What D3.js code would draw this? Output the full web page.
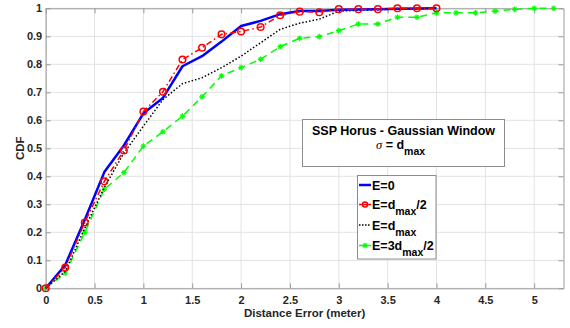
<!DOCTYPE html>
<html>
<head>
<meta charset="utf-8">
<script src="https://cdn.jsdelivr.net/npm/d3@7"></script>
<style>
  html, body { margin: 0; padding: 0; background: #fff; }
  svg { display: block; font-family: "Liberation Sans", Arial, Helvetica, sans-serif; }
  .tick text { font-weight: bold; font-size: 11px; fill: #262626; }
</style>
</head>
<body>
<svg id="chart" width="570" height="328"></svg>
<script>
// Distance error samples (meters) where each CDF was evaluated
const xSteps = [0, 0.2, 0.4, 0.6, 0.8, 1.0, 1.2, 1.4, 1.6, 1.8, 2.0, 2.2, 2.4, 2.6, 2.8, 3.0, 3.2, 3.4, 3.6, 3.8, 4.0];
const xStepsLong = [0, 0.2, 0.4, 0.6, 0.8, 1.0, 1.2, 1.4, 1.6, 1.8, 2.0, 2.2, 2.4, 2.6, 2.8, 3.0, 3.2, 3.4, 3.6, 3.8, 4.0, 4.2, 4.4, 4.6, 4.8, 5.0, 5.2];

// CDF values for each error level E
const cdfE0 = [0, 0.083, 0.245, 0.415, 0.51, 0.625, 0.68, 0.793, 0.829, 0.881, 0.937, 0.955, 0.979, 0.99, 0.99, 0.995, 0.996, 0.997, 0.998, 0.999, 1.0];
const cdfHalf = [0, 0.074, 0.235, 0.382, 0.492, 0.631, 0.702, 0.817, 0.859, 0.907, 0.917, 0.933, 0.975, 0.988, 0.986, 0.997, 0.997, 0.997, 1.0, 1.0, 1.0];
const cdfFull = [0, 0.06, 0.215, 0.36, 0.483, 0.579, 0.674, 0.731, 0.752, 0.788, 0.829, 0.877, 0.925, 0.947, 0.961, 0.99, 0.993, 0.995, 0.997, 0.998, 1.0];
const cdfThreeHalf = [0, 0.054, 0.2, 0.354, 0.413, 0.508, 0.559, 0.615, 0.684, 0.759, 0.788, 0.818, 0.863, 0.893, 0.899, 0.92, 0.944, 0.944, 0.968, 0.968, 0.984, 0.984, 0.984, 0.99, 0.996, 1.0, 1.0];

// Tick labels
const xTicks = [0, 0.5, 1, 1.5, 2, 2.5, 3, 3.5, 4, 4.5, 5];
const yTicks = [0, 0.1, 0.2, 0.3, 0.4, 0.5, 0.6, 0.7, 0.8, 0.9, 1];

const svg = d3.select("#chart");
const plot = { left: 45.7, right: 563.5, top: 8.3, bottom: 288.3 };

const x = d3.scaleLinear().domain([0, 5.3]).range([plot.left, plot.right]);
const y = d3.scaleLinear().domain([0, 1]).range([plot.bottom, plot.top]);

// Grid
const grid = svg.append("g").attr("stroke", "#e3e3e3").attr("stroke-width", 1);
grid.selectAll(".gx").data(xTicks).join("line")
  .attr("x1", d => x(d)).attr("x2", d => x(d))
  .attr("y1", plot.top).attr("y2", plot.bottom);
grid.selectAll(".gy").data(yTicks).join("line")
  .attr("x1", plot.left).attr("x2", plot.right)
  .attr("y1", d => y(d)).attr("y2", d => y(d));

// Axes with inward ticks on all four sides
const fmt = d => String(d);
const axB = svg.append("g").attr("transform", `translate(0,${plot.bottom})`)
  .call(d3.axisBottom(x).tickValues(xTicks).tickFormat(fmt).tickSizeInner(-5).tickSizeOuter(0).tickPadding(6));
const axL = svg.append("g").attr("transform", `translate(${plot.left},0)`)
  .call(d3.axisLeft(y).tickValues(yTicks).tickFormat(fmt).tickSizeInner(-5).tickSizeOuter(0).tickPadding(3.5));
const axT = svg.append("g").attr("transform", `translate(0,${plot.top})`)
  .call(d3.axisTop(x).tickValues(xTicks).tickFormat("").tickSizeInner(-5).tickSizeOuter(0));
const axR = svg.append("g").attr("transform", `translate(${plot.right},0)`)
  .call(d3.axisRight(y).tickValues(yTicks).tickFormat("").tickSizeInner(-5).tickSizeOuter(0));
[axB, axL, axT, axR].forEach(a => {
  a.select(".domain").attr("stroke", "#9a9a9a").attr("stroke-width", 1);
  a.selectAll(".tick line").attr("stroke", "#9a9a9a");
});
axB.selectAll(".tick text").attr("dy", "0.9em");

// Axis titles
svg.append("text")
  .attr("x", (plot.left + plot.right) / 2).attr("y", 316.5)
  .attr("text-anchor", "middle").attr("font-size", 11.5).attr("font-weight", "bold").attr("fill", "#262626")
  .text("Distance Error (meter)");
svg.append("text")
  .attr("transform", `translate(24,${(plot.top + plot.bottom) / 2}) rotate(-90)`)
  .attr("text-anchor", "middle").attr("font-size", 11.5).attr("font-weight", "bold").attr("fill", "#262626")
  .text("CDF");

// Series
const series = [
  { name: "E0", xs: xSteps, ys: cdfE0, color: "#0000ff", width: 2.5, dash: null, marker: null },
  { name: "half", xs: xSteps, ys: cdfHalf, color: "#ff0000", width: 1.5, dash: "6,3,1.5,3", marker: "circle" },
  { name: "full", xs: xSteps, ys: cdfFull, color: "#000000", width: 1.5, dash: "1.5,2", marker: null },
  { name: "threeHalf", xs: xStepsLong, ys: cdfThreeHalf, color: "#00ff00", width: 1.5, dash: "7,5", marker: "star" }
];

const line = d3.line().x(d => x(d[0])).y(d => y(d[1]));
svg.append("defs").append("clipPath").attr("id", "plotclip")
  .append("rect").attr("x", plot.left - 5).attr("y", plot.top - 5)
  .attr("width", plot.right - plot.left + 10).attr("height", plot.bottom - plot.top + 10);

const lines = svg.append("g").attr("clip-path", "url(#plotclip)");

function drawStar(g, cx, cy, color) {
  const s = 2.8;
  g.append("line").attr("x1", cx - s).attr("x2", cx + s).attr("y1", cy).attr("y2", cy).attr("stroke", color).attr("stroke-width", 1.3);
  g.append("line").attr("x1", cx).attr("x2", cx).attr("y1", cy - s).attr("y2", cy + s).attr("stroke", color).attr("stroke-width", 1.3);
  g.append("line").attr("x1", cx - s * 0.7).attr("x2", cx + s * 0.7).attr("y1", cy - s * 0.7).attr("y2", cy + s * 0.7).attr("stroke", color).attr("stroke-width", 1.1);
  g.append("line").attr("x1", cx - s * 0.7).attr("x2", cx + s * 0.7).attr("y1", cy + s * 0.7).attr("y2", cy - s * 0.7).attr("stroke", color).attr("stroke-width", 1.1);
}

// Draw green and black first, then blue, with the red markers on top
const order = ["threeHalf", "full", "E0", "half"];
order.forEach(nm => {
  const s = series.find(v => v.name === nm);
  const pts = s.xs.map((v, i) => [v, s.ys[i]]);
  lines.append("path").datum(pts)
    .attr("fill", "none").attr("stroke", s.color).attr("stroke-width", s.width)
    .attr("stroke-dasharray", s.dash).attr("stroke-linejoin", "round")
    .attr("d", line);
  if (s.marker === "circle") {
    lines.append("g").selectAll("circle").data(pts).join("circle")
      .attr("cx", d => x(d[0])).attr("cy", d => y(d[1])).attr("r", 3.3)
      .attr("fill", "none").attr("stroke", s.color).attr("stroke-width", 1.5);
  } else if (s.marker === "star") {
    const g = lines.append("g");
    pts.forEach(d => drawStar(g, x(d[0]), y(d[1]), s.color));
  }
});

// Annotation box
const tb = svg.append("g");
tb.append("rect").attr("x", 302.5).attr("y", 119.5).attr("width", 202).attr("height", 47)
  .attr("fill", "#fff").attr("stroke", "#8c8c8c").attr("stroke-width", 1);
tb.append("text").attr("x", 403.5).attr("y", 134.5).attr("text-anchor", "middle")
  .attr("font-size", 12.5).attr("font-weight", "bold").attr("fill", "#000")
  .text("SSP Horus - Gaussian Window");
const t2 = tb.append("text").attr("x", 376).attr("y", 149).attr("font-size", 12.5).attr("font-weight", "bold").attr("fill", "#000");
t2.append("tspan").attr("font-family", "'Liberation Serif', 'DejaVu Serif', serif").attr("font-style", "italic").attr("font-weight", "normal").text("σ");
t2.append("tspan").text(" = d");
t2.append("tspan").attr("dy", 6).attr("font-size", 10.5).text("max");

// Legend
const lg = svg.append("g");
lg.append("rect").attr("x", 357.5).attr("y", 175.5).attr("width", 78.5).attr("height", 83.5)
  .attr("fill", "#fff").attr("stroke", "#8c8c8c").attr("stroke-width", 1);
const rows = [
  { s: series[0], cy: 185, parts: [["E=0", 0]] },
  { s: series[1], cy: 204.5, parts: [["E=d", 0], ["max", 6], ["/2", -6]] },
  { s: series[2], cy: 225, parts: [["E=d", 0], ["max", 6]] },
  { s: series[3], cy: 245.5, parts: [["E=3d", 0], ["max", 6], ["/2", -6]] }
];
rows.forEach(r => {
  lg.append("line").attr("x1", 359).attr("x2", 371).attr("y1", r.cy).attr("y2", r.cy)
    .attr("stroke", r.s.color).attr("stroke-width", r.s.width)
    .attr("stroke-dasharray", r.s.name === "full" ? "1.5,1.5" : null);
  if (r.s.marker === "circle") {
    lg.append("circle").attr("cx", 365).attr("cy", r.cy).attr("r", 2.5)
      .attr("fill", "none").attr("stroke", r.s.color).attr("stroke-width", 1.5);
  } else if (r.s.marker === "star") {
    drawStar(lg, 365, r.cy, r.s.color);
  }
  const t = lg.append("text").attr("x", 372).attr("y", r.cy + 4.5)
    .attr("font-size", 12.5).attr("font-weight", "bold").attr("fill", "#000");
  r.parts.forEach(([txt, dy]) => {
    const sp = t.append("tspan").text(txt);
    if (dy) sp.attr("dy", dy);
    if (txt === "max") sp.attr("font-size", 10.5);
  });
});
</script>
</body>
</html>
